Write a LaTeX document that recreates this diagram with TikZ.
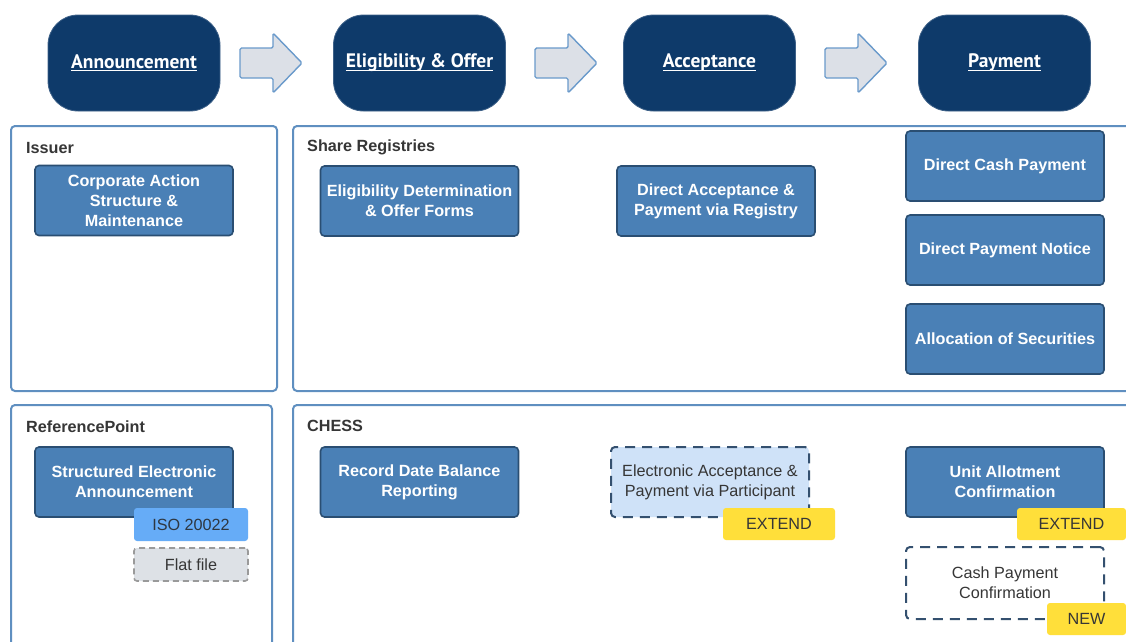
\documentclass[tikz,border=0pt]{standalone}
\usepackage{fontspec}
\setmainfont{Liberation Sans}
\newfontfamily\stagefont{PT Sans}
\definecolor{navy}{HTML}{0E3A6A}
\definecolor{arrowfill}{HTML}{DCE0E7}
\definecolor{arrowline}{HTML}{6A9ACB}
\definecolor{panelline}{HTML}{5F8FC0}
\definecolor{procfill}{HTML}{4A80B6}
\definecolor{procline}{HTML}{2A4E72}
\definecolor{lightfill}{HTML}{CFE2F8}
\definecolor{dashline}{HTML}{34506F}
\definecolor{isofill}{HTML}{66ACF7}
\definecolor{flatfill}{HTML}{DDE1E6}
\definecolor{flatline}{HTML}{9A9A9A}
\definecolor{tagyellow}{HTML}{FFDF3A}
\definecolor{txtdark}{HTML}{363636}
\newcommand\stul[1]{\setbox0\hbox{#1}\rlap{\rule[-3.2pt]{\wd0}{1.3pt}}\box0}
\begin{document}
\begin{tikzpicture}[x=1pt,y=-1pt,
  stagebox/.style={fill=navy,draw=navy!80!white,line width=0.8pt,rounded corners=30pt,
    minimum width=172pt,minimum height=96pt,text=white,
    font=\stagefont\bfseries\fontsize{19.5}{22}\selectfont},
  blockarrow/.style={fill=arrowfill,draw=arrowline,line width=1.4pt,rounded corners=1.5pt,line join=round},
  panel/.style={draw=panelline,line width=2pt,rounded corners=4pt,fill=white,
    anchor=north west,inner sep=0pt},
  paneltitle/.style={anchor=west,inner sep=0pt,text=txtdark,
    font=\bfseries\fontsize{16.2}{20}\selectfont},
  procbox/.style={fill=procfill,draw=procline,line width=1.6pt,rounded corners=4pt,
    minimum width=198pt,minimum height=70pt,text=white,align=center,inner sep=2pt,
    font=\bfseries\fontsize{16.2}{20}\selectfont},
  dashbox/.style={draw=dashline,line width=2pt,dash pattern=on 10pt off 7pt,rounded corners=4pt,
    minimum width=198pt,minimum height=70pt,text=txtdark,align=center,inner sep=2pt,
    font=\fontsize{16.2}{20}\selectfont},
  tagbox/.style={rounded corners=3pt,minimum height=32pt,text=txtdark,inner sep=0pt,
    font=\fontsize{16.2}{20}\selectfont},
  yellowtag/.style={tagbox,fill=tagyellow}
]
\useasboundingbox (0,0) rectangle (1126,641);
\begin{scope}
\clip (0,0) rectangle (1126,641);
% stage boxes
\node[stagebox] (ann) at (134,63) {\stul{Announcement}};
\node[stagebox] (elo) at (419.5,63) {\stul{Eligibility \& Offer}};
\node[stagebox] (acc) at (709.5,63) {\stul{Acceptance}};
\node[stagebox] (pay) at (1004.5,63) {\stul{Payment}};
% block arrows
\foreach \x in {240,535,825}{
  \draw[blockarrow] (\x,48) -- (\x+33,48) -- (\x+33,33) -- (\x+62,63) -- (\x+33,93)
     -- (\x+33,78) -- (\x,78) -- cycle;
}
% panels
\node[panel,minimum width=266pt,minimum height=265pt] (issuer) at (10,125) {};
\node[panel,minimum width=850pt,minimum height=265pt] (share) at (292,125) {};
\node[panel,minimum width=261pt,minimum height=250pt] (refpt) at (10,404) {};
\node[panel,minimum width=850pt,minimum height=250pt] (chess) at (292,404) {};
\node[paneltitle] (tissuer) at (26,147.5) {Issuer};
\node[paneltitle] (tshare) at (307,147.5) {Share Registries};
\node[paneltitle] (trefpt) at (26,427) {ReferencePoint};
\node[paneltitle] (tchess) at (307,426) {CHESS};
% process boxes
\node[procbox] (corp) at (134,200.5) {Corporate Action\\Structure \&\\Maintenance};
\node[procbox] (elig) at (419.5,201) {Eligibility Determination\\\& Offer Forms};
\node[procbox] (dacc) at (716,201) {Direct Acceptance \&\\Payment via Registry};
\node[procbox] (dcash) at (1005,166) {Direct Cash Payment};
\node[procbox] (dnot) at (1005,250) {Direct Payment Notice};
\node[procbox] (alloc) at (1005,339) {Allocation of Securities};
\node[procbox] (sea) at (134,482) {Structured Electronic\\Announcement};
\node[procbox] (rdb) at (419.5,482) {Record Date Balance\\Reporting};
\node[dashbox,fill=lightfill] (eacc) at (710,482) {Electronic Acceptance \&\\Payment via Participant};
\node[procbox] (unit) at (1005,482) {Unit Allotment\\Confirmation};
\node[dashbox,fill=white,minimum height=72pt] (cpc) at (1005,583) {Cash Payment\\Confirmation};
% tags
\node[tagbox,fill=isofill,minimum width=114pt,minimum height=33pt,text=txtdark!80!navy] (iso) at (191,524.5) {ISO 20022};
\node[tagbox,fill=flatfill,draw=flatline,line width=1.6pt,dash pattern=on 6pt off 4pt,
  minimum width=114pt,minimum height=33pt] (flat) at (191,564.5) {Flat file};
\node[yellowtag,minimum width=112pt] (ext1) at (779,524) {EXTEND};
\node[yellowtag,minimum width=109pt] (ext2) at (1071.5,524) {EXTEND};
\node[yellowtag,minimum width=79pt] (new) at (1086.5,619) {NEW};
\end{scope}
\end{tikzpicture}
\end{document}
